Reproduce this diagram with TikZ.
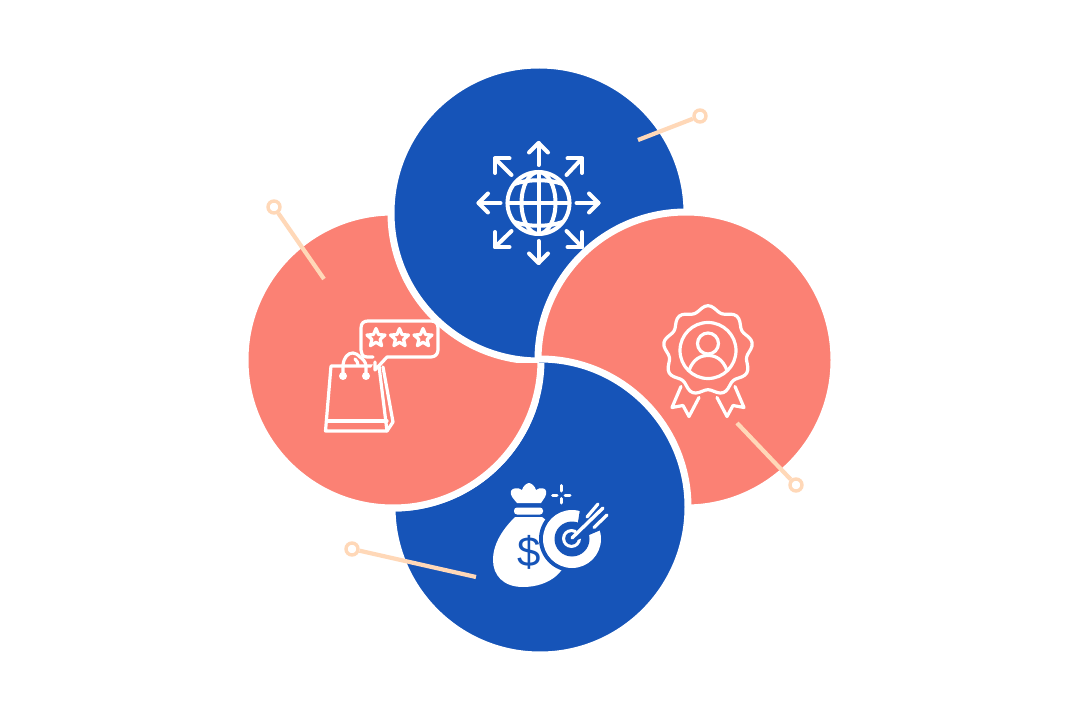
\documentclass[tikz,border=0pt]{standalone}
\usepackage{fontspec}
\setmainfont{Liberation Sans}
\definecolor{bluec}{HTML}{1654B8}
\definecolor{salmon}{HTML}{FB8174}
\definecolor{peach}{HTML}{FFD8B8}
\tikzset{
  disc/.style={circle,minimum size=296pt,inner sep=0pt,outer sep=0pt,draw=white,line width=7pt},
  pinend/.style={circle,minimum size=12pt,inner sep=0pt,draw=peach,fill=white,line width=3.4pt},
  pinline/.style={draw=peach,line width=4.2pt},
  ico/.style={draw=white,line width=4pt,line cap=round,line join=round},
  icot/.style={draw=white,line width=3.2pt,line cap=round,line join=round},
}
\begin{document}
\begin{tikzpicture}[x=1pt,y=-1pt]
\useasboundingbox (0,0) rectangle (1080,711);
\fill[white] (0,0) rectangle (1080,711);
% discs, cyclically overlapping
\node[disc,fill=bluec] (bottomc) at (540,507) {};
\node[disc,fill=salmon] (leftc) at (393,360) {};
\node[disc,fill=bluec] (topc) at (539,213) {};
\node[disc,fill=salmon] (rightc) at (686,360) {};
\begin{scope}
\clip (539,354) rectangle (720,560);
\node[disc,fill=bluec] (bottomd) at (540,507) {};
\end{scope}
\begin{scope}
\clip (380,364) rectangle (560,530);
\node[disc,fill=salmon] (leftd) at (393,360) {};
\end{scope}
% pins
\node[pinend] (p1) at (700,116) {};
\coordinate (q1) at (638,140);
\draw[pinline] (q1) -- (p1);
\node[pinend] (p2) at (274,207) {};
\coordinate (q2) at (324,279);
\draw[pinline] (q2) -- (p2);
\node[pinend] (p3) at (796,485) {};
\coordinate (q3) at (737,423);
\draw[pinline] (q3) -- (p3);
\node[pinend] (p4) at (352,549) {};
\coordinate (q4) at (476,577);
\draw[pinline] (q4) -- (p4);
% globe icon
\begin{scope}[shift={(538.5,203)}]
\draw[ico] (0,0) circle (31);
\draw[ico] (0,-31) -- (0,31);
\draw[ico] (-31,0) -- (31,0);
\draw[ico] (0,0) ellipse (17 and 31);
\draw[ico] (-24,-19) .. controls (-10,-24) and (10,-24) .. (24,-19);
\draw[ico] (-24,19) .. controls (-10,24) and (10,24) .. (24,19);
% straight arrows
\draw[ico] (0,-38) -- (0,-60);
\draw[ico] (-9.5,-50.5) -- (0,-60) -- (9.5,-50.5);
\draw[ico] (0,38) -- (0,60);
\draw[ico] (-9.5,50.5) -- (0,60) -- (9.5,50.5);
\draw[ico] (-38,0) -- (-60,0);
\draw[ico] (-50.5,-9.5) -- (-60,0) -- (-50.5,9.5);
\draw[ico] (38,0) -- (60,0);
\draw[ico] (50.5,-9.5) -- (60,0) -- (50.5,9.5);
% diagonal arrows
\draw[ico] (-27,-28) -- (-43.5,-44.5);
\draw[ico] (-29,-44.5) -- (-43.5,-44.5) -- (-43.5,-30);
\draw[ico] (28,-28) -- (43.5,-44.5);
\draw[ico] (29,-44.5) -- (43.5,-44.5) -- (43.5,-30);
\draw[ico] (-27,28) -- (-43.5,44);
\draw[ico] (-29,44) -- (-43.5,44) -- (-43.5,29);
\draw[ico] (28,28) -- (43.5,44);
\draw[ico] (29,44) -- (43.5,44) -- (43.5,29);
\end{scope}
% shopping bag icon
\draw[icot] (331,366) -- (325.5,431) -- (387,431) -- (379,366) -- cycle;
\draw[icot] (327.5,421) -- (387,421);
\draw[icot] (383,367) -- (393,422) -- (387,431);
\fill[white] (343,376) circle (4);
\fill[white] (366,376) circle (4);
\draw[icot] (343,376) -- (343,365) .. controls (344,357) and (348,353) .. (353,353) .. controls (356,353) and (358,355) .. (360,357);
\draw[icot] (366,376) -- (366,366) .. controls (366,362) and (362,358) .. (360,357);
\draw[icot] (355,359) .. controls (357,361) and (358,363) .. (358,365);
\draw[salmon,line width=6pt] (378,362) -- (371,374);
\draw[icot] (373,357) -- (367,357) .. controls (362,357) and (361,353) .. (361,350) -- (361,328) .. controls (361,323) and (364,321) .. (368,321) -- (431,321) .. controls (435,321) and (438,323) .. (438,328) -- (438,350) .. controls (438,354) and (435,357) .. (431,357) -- (387,357) -- (375,370) -- (375,362);
\foreach \cx in {376,399.5,423}{
  \draw[icot] plot[samples at={0,...,10}] ({\cx+(mod(\x,2)==0?9.5:4.3)*sin(36*\x)},{338-(mod(\x,2)==0?9.5:4.3)*cos(36*\x)});
}
% badge icon
\begin{scope}[shift={(708,350.5)}]
\draw[icot] plot[smooth cycle,samples at={0,4,...,356}] ({(42+2.8*cos(9*\x))*sin(\x)},{-(42+2.8*cos(9*\x))*cos(\x)});
\draw[icot] (0,0) circle (28);
\draw[icot] (0,-7) circle (10.5);
\draw[icot] (-19,20) .. controls (-15,9) and (-8,5) .. (0,5) .. controls (8,5) and (15,9) .. (19,20);
\draw[icot] (-27,36) -- (-36,57) -- (-25,55) -- (-19,66) -- (-9,47);
\draw[icot] (27,36) -- (36,57) -- (25,55) -- (19,66) -- (9,47);
\end{scope}
% money bag icon
\fill[white] (515,517) -- (542,517) .. controls (552,524) and (562,535) .. (566,550) .. controls (570,570) and (550,587) .. (523,587) .. controls (503,587) and (493,575) .. (493,560) .. controls (493,542) and (505,527) .. (515,517) -- cycle;
\fill[white,rounded corners=3pt] (514,507.5) rectangle (543,514.5);
\fill[white] (517,503) .. controls (513,498) and (510,496) .. (511,491) .. controls (512,488) and (518,487) .. (522,490) .. controls (523,486) and (527,483) .. (529,483) .. controls (531,483) and (535,486) .. (536,490) .. controls (540,487) and (546,488) .. (546,491) .. controls (547,496) and (544,498) .. (541,503) -- cycle;
\node[text=bluec,font=\fontsize{42pt}{42pt}\selectfont,inner sep=0pt] (dollar) at (529,552) {\$};
% target
\fill[bluec] (572,539) circle (33);
\fill[white] (572,539) circle (29);
\fill[bluec] (572,539) circle (17.5);
\fill[white] (571.5,538.5) circle (9.5);
\fill[bluec] (571.5,538.5) circle (6.3);
\fill[bluec] (581,503) -- (612,503) -- (603,529) -- (575,541) -- cycle;
\draw[white,line width=3.4pt,line cap=round] (572,538) -- (603,508);
\draw[white,line width=3.2pt,line cap=round] (587,517) -- (598,504);
\draw[white,line width=3.2pt,line cap=round] (594,527.5) -- (607,515);
% sparkle
\draw[white,line width=3pt,line cap=round] (561,485.5) -- (561,491);
\draw[white,line width=3pt,line cap=round] (561,498.5) -- (561,503);
\draw[white,line width=3pt,line cap=round] (552.5,495) -- (557,495);
\draw[white,line width=3pt,line cap=round] (565,495) -- (570,495);
\end{tikzpicture}
\end{document}
